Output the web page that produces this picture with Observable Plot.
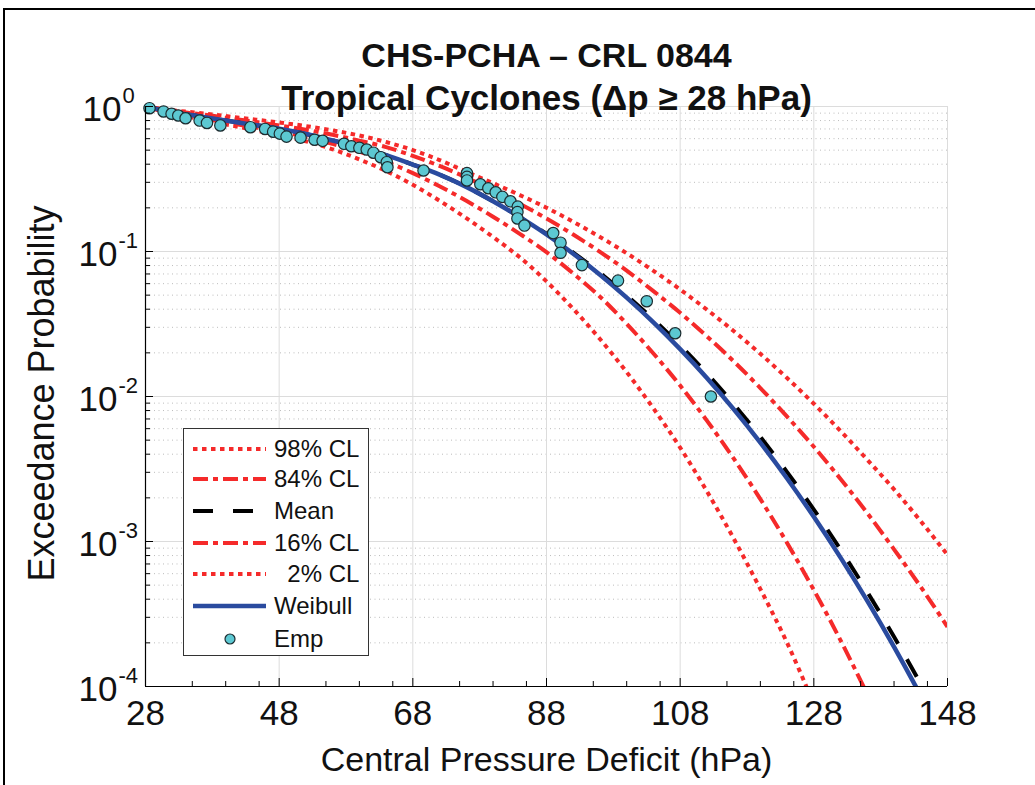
<!DOCTYPE html>
<html><head><meta charset="utf-8">
<script src="https://cdn.jsdelivr.net/npm/d3@7"></script>
<script src="https://cdn.jsdelivr.net/npm/@observablehq/plot@0.6"></script>
<style>
html,body{margin:0;padding:0;background:#fff;overflow:hidden;}
#wrap{position:relative;width:1035px;height:785px;overflow:hidden;}
#frame{position:absolute;left:3px;top:8px;width:1100px;height:900px;border-left:2px solid #000;border-top:2px solid #000;pointer-events:none;}
#legend{position:absolute;left:183px;top:428px;width:184px;height:226px;border:1px solid #333;background:#fff;}
</style></head><body><div id="wrap"><div id="chart"></div><div id="legend"></div><div id="frame"></div></div>
<script>
// ---- data ----
const xCurve = [28,32,36,40,44,48,52,56,60,64,68,72,76,80,84,88,92,96,100,104,108,112,116,120,124,128,132,136,140,144,148];
const cl98 = [1,0.944,0.902,0.859,0.817,0.776,0.733,0.684,0.631,0.569,0.501,0.427,0.355,0.296,0.245,0.2004,0.1603,0.1259,0.0973,0.0736,0.0547,0.0397,0.0283,0.0197,0.0134,0.00891,0.00578,0.00366,0.00229,0.00138,0.000809];
const cl84 = [1,0.933,0.887,0.838,0.789,0.741,0.692,0.638,0.582,0.525,0.457,0.389,0.324,0.264,0.2133,0.1690,0.1309,0.0995,0.0738,0.0533,0.0378,0.0260,0.0175,0.01143,0.00726,0.00450,0.00270,0.00157,0.000883,0.000486,0.000258];
const meanCurve = [1,0.914,0.857,0.800,0.750,0.702,0.646,0.583,0.525,0.462,0.398,0.339,0.279,0.222,0.1726,0.1327,0.0984,0.0711,0.0498,0.0340,0.02249,0.01439,0.00887,0.00526,0.00301,0.00166,0.000879,0.000449,0.0002203,0.0001038,0.0000468];
const cl16 = [1,0.904,0.839,0.776,0.724,0.673,0.617,0.552,0.488,0.417,0.347,0.282,0.2239,0.1738,0.1324,0.0989,0.0705,0.0488,0.0317,0.0198,0.01189,0.00682,0.00374,0.00196,0.000977,0.000463,0.000208,0.0000883,0.0000355,0.0000135,0.000005];
const cl2 = [1,0.891,0.822,0.753,0.692,0.634,0.575,0.507,0.4315,0.359,0.2884,0.2239,0.1698,0.1259,0.0912,0.0622,0.0402,0.0249,0.01472,0.00828,0.00444,0.00222,0.00105,0.00047,0.0002,0.0000759,0.0000280,0.0000100,0.0000034,0.00000115,0.0000004];
const weibull = [1,0.914,0.857,0.800,0.750,0.702,0.646,0.583,0.525,0.462,0.398,0.339,0.279,0.222,0.1726,0.1312,0.0966,0.0692,0.0481,0.0325,0.02123,0.01343,0.00818,0.0048,0.00272,0.00148,0.000774,0.000389,0.0001875,0.0000863,0.000038];

const empX = [28.6,30.7,31.9,32.9,34.0,36.1,37.2,39.2,43.7,45.9,47.1,48.1,49.1,51.2,53.3,54.5,57.7,58.8,60.0,61.1,62.1,63.2,64.1,64.2,69.6,76.1,76.1,76.1,78.1,79.3,80.4,81.4,82.6,83.7,83.65,83.65,84.7,89.0,90.1,90.1,93.3,98.7,103.0,107.25,112.6];
const empP = [0.973,0.924,0.891,0.867,0.830,0.80,0.77,0.74,0.72,0.70,0.67,0.65,0.62,0.61,0.59,0.58,0.553,0.532,0.519,0.505,0.48,0.447,0.413,0.381,0.362,0.347,0.327,0.309,0.291,0.273,0.256,0.238,0.222,0.204,0.187,0.169,0.151,0.134,0.115,0.098,0.0806,0.063,0.0454,0.0273,0.01];

const xTicks = [28,48,68,88,108,128,148];
const xMinor = [35,40,45,55,60,65,75,80,85,95,100,105,115,120,125,135,140,145];
const yTicks = [1e-4,1e-3,1e-2,1e-1,1];
const yExp = ["-4","-3","-2","-1","0"];
const titleLines = ["CHS-PCHA \u2013 CRL 0844", "Tropical Cyclones (\u0394p \u2265 28 hPa)"];
const xLabel = "Central Pressure Deficit (hPa)";
const yLabel = "Exceedance Probability";
const legendLabels = ["98% CL","84% CL","Mean","16% CL","  2% CL","Weibull","Emp"];

// ---- styling ----
const RED = "#f52a2a", BLUE = "#2a4b9f", CYAN = "#5cc8d2";
const FONT = '"Liberation Sans", Arial, Helvetica, sans-serif';
const DOT = "4.5,4.5", DASHDOT = "15,5,5,5", DASH = "20,18";

const yMinor = [];
for (const d of [1e-4,1e-3,1e-2,1e-1]) for (let m = 2; m <= 9; m++) yMinor.push(+(d*m).toPrecision(3));

const rows = xCurve.map((x,i) => ({x, cl98: cl98[i], cl84: cl84[i], mean: meanCurve[i], cl16: cl16[i], cl2: cl2[i], weibull: weibull[i]}));
const emp = empX.map((x,i) => ({x, p: empP[i]}));

const line = (key, stroke, dash, w) => Plot.line(rows, {x: "x", y: key, stroke, strokeWidth: w, strokeDasharray: dash, curve: "monotone-x", clip: true, strokeLinecap: "butt"});

const marks = [
  Plot.ruleY(yMinor, {stroke: "#bcbcbc", strokeDasharray: "1,3.5", strokeWidth: 1}),
  Plot.ruleY(yTicks, {stroke: "#dcdcdc", strokeWidth: 1}),
  Plot.ruleX(xTicks, {stroke: "#dcdcdc", strokeWidth: 1}),
  line("cl98", RED, DOT, 4),
  line("cl84", RED, DASHDOT, 4),
  line("mean", "#000", DASH, 4),
  line("cl16", RED, DASHDOT, 4),
  line("cl2", RED, DOT, 4),
  line("weibull", BLUE, null, 4.5),
  Plot.dot(emp, {x: "x", y: "p", r: 5.7, fill: CYAN, stroke: "#1c2c30", strokeWidth: 1.2}),
  Plot.ruleX([28], {stroke: "#000", strokeWidth: 1.2}),
  Plot.ruleY([1e-4], {stroke: "#000", strokeWidth: 1.2}),
  Plot.tickX(xTicks, {x: d => d, insetTop: 572, stroke: "#000"}),
  Plot.tickX(xMinor, {x: d => d, insetTop: 575, stroke: "#000"}),
  Plot.tickY(yTicks, {y: d => d, insetRight: 794, stroke: "#000"}),
  Plot.tickY(yMinor, {y: d => d, insetRight: 797, stroke: "#000"}),
  Plot.text(xTicks, {x: d => d, frameAnchor: "bottom", dy: 38, text: d => String(d), fontSize: 35, fill: "#111"}),
  Plot.text([titleLines[0]], {frameAnchor: "top", dy: -64, fontSize: 34, fontWeight: "bold", fill: "#111"}),
  Plot.text([titleLines[1]], {frameAnchor: "top", dy: -21, fontSize: 35, fontWeight: "bold", fill: "#111"}),
  Plot.text([xLabel], {frameAnchor: "bottom", dy: 84, fontSize: 34, fill: "#111"}),
  Plot.text([yLabel], {frameAnchor: "left", textAnchor: "middle", dx: -103, dy: -3, rotate: -90, fontSize: 36, fill: "#111"})
];
yTicks.forEach((t, i) => {
  const neg = yExp[i].startsWith("-");
  const baseEnd = neg ? 117 : 121;
  marks.push(Plot.text([t], {y: d => d, frameAnchor: "left", text: () => "10", textAnchor: "end", dx: baseEnd - 145, dy: 3, fontSize: 35, fill: "#111"}));
  marks.push(Plot.text([t], {y: d => d, frameAnchor: "left", text: () => yExp[i], textAnchor: "start", dx: baseEnd + 1 - 145, dy: -11, fontSize: 22, fill: "#111"}));
});

const chart = Plot.plot({
  width: 1035, height: 785,
  marginLeft: 145, marginRight: 88, marginTop: 106, marginBottom: 99,
  style: {fontFamily: FONT, background: "#fff", overflow: "visible"},
  x: {domain: [28,148], axis: null},
  y: {type: "log", domain: [1e-4,1], axis: null},
  marks
});
document.getElementById("chart").appendChild(chart);

// ---- legend ----
const styles = [
  {stroke: RED, dash: DOT}, {stroke: RED, dash: DASHDOT}, {stroke: "#000", dash: "20,20"},
  {stroke: RED, dash: DASHDOT}, {stroke: RED, dash: DOT}, {stroke: BLUE, dash: null}, {dot: true}
];
const rowY = [20,50,82,114,145,177,210];
const lg = d3.select("#legend").append("svg").attr("width", 184).attr("height", 226)
  .style("font-family", FONT).style("font-size", "24px");
legendLabels.forEach((lab, i) => {
  const s = styles[i], y = rowY[i];
  if (s.dot) {
    lg.append("circle").attr("cx", 46).attr("cy", y).attr("r", 5).attr("fill", CYAN).attr("stroke", "#1c2c30").attr("stroke-width", 1.2);
  } else {
    lg.append("line").attr("x1", 9).attr("x2", 82).attr("y1", y).attr("y2", y)
      .attr("stroke", s.stroke).attr("stroke-width", s.stroke === BLUE ? 4.5 : 4)
      .attr("stroke-dasharray", s.dash);
  }
  lg.append("text").attr("x", 90).attr("y", y).attr("dy", "0.35em").attr("fill", "#111")
    .style("white-space", "pre").attr("xml:space", "preserve").text(lab);
});
</script>
</body></html>
